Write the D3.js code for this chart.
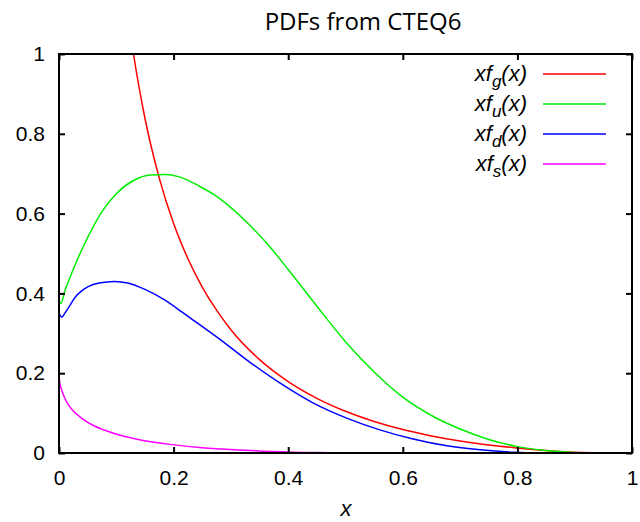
<!doctype html>
<html>
<head>
<meta charset="utf-8">
<script src="https://unpkg.com/d3@7/dist/d3.min.js"></script>
<style>
  body { margin: 0; background: #fff; }
  svg text { font-family: "Liberation Sans", Arial, sans-serif; }
</style>
</head>
<body>
<svg id="chart" width="640" height="522"></svg>
<script>
// values
var gluon = [[0.1,1.357],[0.115,1.155],[0.13,1.0],[0.15,0.839],[0.175,0.689],[0.2,0.575],[0.225,0.487],[0.25,0.416],[0.275,0.358],[0.3,0.309],[0.35,0.234],[0.4,0.179],[0.45,0.137],[0.5,0.1045],[0.55,0.079],[0.6,0.0587],[0.65,0.0428],[0.7,0.0301],[0.75,0.0203],[0.8,0.0127],[0.85,0.006],[0.9,0.002],[0.95,0.0003]];
var upQ = [[0,0.38],[0.0035,0.375],[0.01,0.405],[0.02,0.443],[0.03,0.478],[0.05,0.54],[0.075,0.605],[0.1,0.65],[0.13,0.683],[0.16,0.697],[0.185,0.698],[0.21,0.692],[0.246,0.668],[0.27,0.648],[0.3,0.615],[0.33,0.575],[0.36,0.53],[0.4,0.46],[0.45,0.368],[0.5,0.279],[0.55,0.203],[0.6,0.14],[0.65,0.094],[0.7,0.06],[0.75,0.034],[0.8,0.016],[0.85,0.006],[0.9,0.001]];
var downQ = [[0,0.352],[0.0047,0.34],[0.01,0.35],[0.02,0.372],[0.028,0.39],[0.04,0.407],[0.051,0.417],[0.07,0.426],[0.097,0.43],[0.12,0.426],[0.15,0.41],[0.185,0.383],[0.215,0.353],[0.246,0.321],[0.278,0.288],[0.328,0.233],[0.386,0.175],[0.444,0.125],[0.502,0.0875],[0.56,0.058],[0.618,0.035],[0.677,0.018],[0.735,0.008],[0.793,0.002],[0.85,0]];
var strangeQ = [[0,0.2],[0.001,0.18],[0.0047,0.158],[0.01,0.138],[0.016,0.122],[0.025,0.105],[0.04,0.087],[0.06,0.069],[0.08,0.057],[0.11,0.043],[0.138,0.034],[0.197,0.021],[0.25,0.013],[0.284,0.010],[0.371,0.004],[0.45,0.001],[0.5,0]];

var xTicks = [0, 0.2, 0.4, 0.6, 0.8, 1];
var yTicks = [0, 0.2, 0.4, 0.6, 0.8, 1];

var series = [
  { sub: "g", data: gluon, color: "#ff0000" },
  { sub: "u", data: upQ, color: "#00ee00" },
  { sub: "d", data: downQ, color: "#0000ff" },
  { sub: "s", data: strangeQ, color: "#ff00ff" }
];

var svg = d3.select("#chart");
var pLeft = 59, pRight = 632, pTop = 54, pBottom = 453;

var x = d3.scaleLinear().domain([0, 1]).range([pLeft, pRight]);
var y = d3.scaleLinear().domain([0, 1]).range([pBottom, pTop]);

svg.append("defs").append("clipPath").attr("id", "clip")
  .append("rect").attr("x", pLeft).attr("y", pTop)
  .attr("width", pRight - pLeft).attr("height", pBottom - pTop);

var line = d3.line()
  .x(function (d) { return x(d[0]); })
  .y(function (d) { return y(d[1]); })
  .curve(d3.curveMonotoneX);

svg.append("g").attr("clip-path", "url(#clip)")
  .selectAll("path").data(series).enter().append("path")
  .attr("d", function (d) { return line(d.data); })
  .attr("fill", "none")
  .attr("stroke", function (d) { return d.color; })
  .attr("stroke-width", 1.5);

// axes, ticks pointing inward like gnuplot
function styleAxis(g, showText) {
  g.attr("font-family", null).attr("font-size", null);
  g.select(".domain").remove();
  g.selectAll(".tick line").attr("stroke", "#000").attr("stroke-width", 2);
  g.selectAll(".tick text").style("font-size", "21px").attr("fill", "#000");
  if (!showText) g.selectAll(".tick text").remove();
}

svg.append("g").attr("transform", "translate(0," + pBottom + ")")
  .call(d3.axisBottom(x).tickValues(xTicks).tickFormat(d3.format("")).tickSize(-6).tickPadding(17))
  .call(styleAxis, true);
svg.append("g").attr("transform", "translate(0," + pTop + ")")
  .call(d3.axisTop(x).tickValues(xTicks).tickSize(-6))
  .call(styleAxis, false);
svg.append("g").attr("transform", "translate(" + pLeft + ",0)")
  .call(d3.axisLeft(y).tickValues(yTicks).tickFormat(d3.format("")).tickSize(-6).tickPadding(14))
  .call(styleAxis, true);
svg.append("g").attr("transform", "translate(" + pRight + ",0)")
  .call(d3.axisRight(y).tickValues(yTicks).tickSize(-6))
  .call(styleAxis, false);

svg.append("rect")
  .attr("x", pLeft).attr("y", pTop)
  .attr("width", pRight - pLeft).attr("height", pBottom - pTop)
  .attr("fill", "none").attr("stroke", "#000").attr("stroke-width", 2);

// legend
var leg = svg.append("g").selectAll("g").data(series).enter().append("g")
  .attr("transform", function (d, i) { return "translate(0," + (74 + i * 30) + ")"; });
leg.append("line")
  .attr("x1", 543).attr("x2", 606)
  .attr("stroke", function (d) { return d.color; })
  .attr("stroke-width", 1.5);
var lt = leg.append("text")
  .attr("x", 527).attr("y", 7)
  .attr("text-anchor", "end")
  .style("font-size", "22px")
  .attr("font-style", "italic");
lt.append("tspan").text("xf");
lt.append("tspan").attr("dy", 6).style("font-size", "17px").text(function (d) { return d.sub; });
lt.append("tspan").attr("dy", -6).text("(x)");

// title and x label
svg.append("text")
  .attr("x", 363).attr("y", 30)
  .attr("text-anchor", "middle")
  .style("font-family", "'Open Sans', sans-serif")
  .style("font-size", "24px")
  .text("PDFs from CTEQ6");

svg.append("text")
  .attr("x", 346).attr("y", 516)
  .attr("text-anchor", "middle")
  .style("font-size", "22px")
  .attr("font-style", "italic")
  .text("x");
</script>
</body>
</html>
